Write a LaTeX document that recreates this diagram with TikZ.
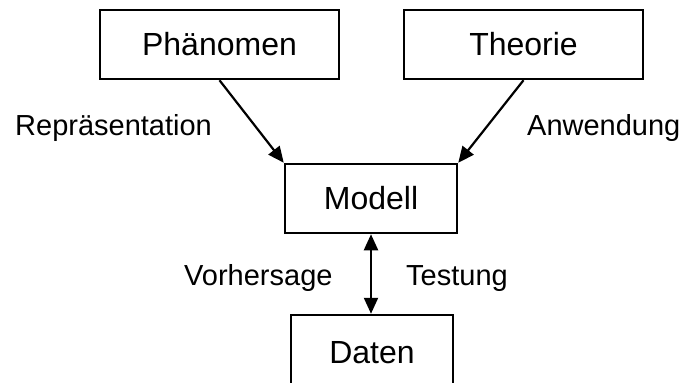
\documentclass[tikz,border=0pt]{standalone}
\usepackage{fontspec}
\setmainfont{Liberation Sans}
\usetikzlibrary{arrows.meta}
\begin{document}
\begin{tikzpicture}[x=1pt,y=-1pt,
  box/.style={draw,line width=2.5pt,rectangle,inner sep=0pt,font=\fontsize{32}{38}\selectfont},
  lbl/.style={anchor=base west,inner sep=0pt,font=\fontsize{29}{35}\selectfont},
  arr/.style={line width=2.2pt,-{Triangle[length=16pt,width=14pt]}},
  darr/.style={line width=2.2pt,{Triangle[length=16pt,width=14pt]}-{Triangle[length=16pt,width=14pt]}}]
  \useasboundingbox (0,0) rectangle (683,383);
  \clip (0,0) rectangle (683,383);
  % boxes
  \node[box,minimum width=239pt,minimum height=69pt] (ph) at (219.5,44.5) {Phänomen};
  \node[box,minimum width=239pt,minimum height=69pt] (th) at (523.5,44.5) {Theorie};
  \node[box,minimum width=172pt,minimum height=69pt] (mo) at (371,198.5) {Modell};
  \node[box,minimum width=162pt,minimum height=76pt] (da) at (372,353) {Daten};
  % connectors
  \draw[arr] (ph.south) -- (mo.north west);
  \draw[arr] (th.south) -- (mo.north east);
  \draw[darr] (mo.south) -- (mo.south |- da.north);
  % labels
  \node[lbl] (l1) at (15,135) {Repräsentation};
  \node[lbl] (l2) at (527,135) {Anwendung};
  \node[lbl] (l3) at (184,285) {Vorhersage};
  \node[lbl] (l4) at (406,285) {Testung};
\end{tikzpicture}
\end{document}
